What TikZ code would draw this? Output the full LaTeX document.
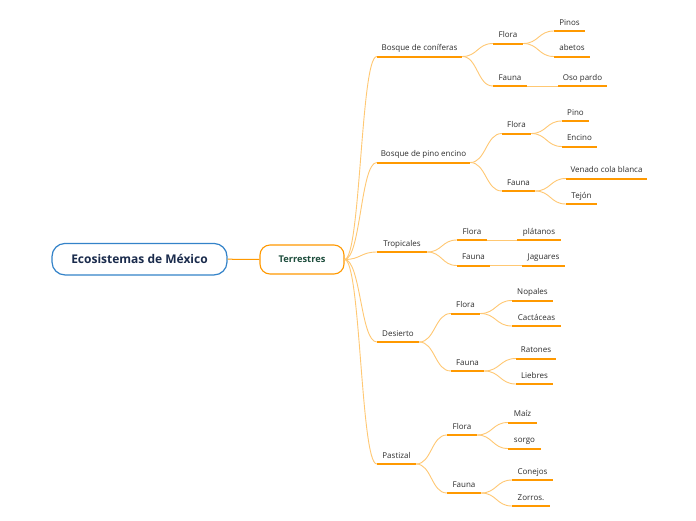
\documentclass[tikz,border=0pt]{standalone}
\usepackage{fontspec}
\setmainfont{Open Sans}
\usetikzlibrary{calc}
\definecolor{orng}{RGB}{255,153,0}
\definecolor{lorng}{RGB}{255,200,115}
\definecolor{rootblue}{RGB}{52,131,201}
\definecolor{navy}{RGB}{26,43,76}
\definecolor{tgreen}{RGB}{29,77,60}
\definecolor{txt}{RGB}{45,45,45}
\newcommand\mmitem[5]{%
  \node[lbl, minimum width={#3-#2}] (#1) at ({(#2+#3)/2},#4) {#5};
  \draw[ul] (#1.south west) -- (#1.south east);}
\newcommand\mmlink[2]{\draw[conn] (#1) to[hc] (#2.south west);}
\begin{document}
\begin{tikzpicture}[x=1pt,y=-1pt,
  lbl/.style={font=\fontsize{8}{9}\selectfont, text=txt, anchor=south,
    inner xsep=0pt, inner ysep=0pt, text height=6pt, text depth=5.5pt},
  ul/.style={orng, line width=2pt},
  conn/.style={lorng, line width=0.9pt},
  hc/.style={to path={let \p1=(\tikztostart), \p2=(\tikztotarget), \n1={(\x2-\x1)/2} in
    .. controls ([xshift=\n1]\tikztostart) and ([xshift=-\n1]\tikztotarget) .. (\tikztotarget)}}]
\useasboundingbox (0,0) rectangle (696,520);
\fill[white] (0,0) rectangle (696,520);

\node[draw=rootblue, line width=1.2pt, rounded corners=13pt, fill=white,
  minimum width=175pt, minimum height=31.5pt, inner sep=0pt,
  font=\bfseries\fontsize{12}{14}\selectfont, text=navy] (root) at (139.5,259.2) {Ecosistemas de México};
\node[draw=orng, line width=1.1pt, rounded corners=10pt, fill=white,
  minimum width=84pt, minimum height=29pt, inner sep=0pt,
  font=\bfseries\fontsize{9.3}{11}\selectfont, text=tgreen] (terr) at (302,259.5) {Terrestres};
\draw[orng, line width=1pt] (root.east) -- (terr.west);

% level 1
\mmitem{c1}{377}{462}{56.5}{Bosque de coníferas}
\mmitem{c2}{377}{470}{162.5}{Bosque de pino encino}
\mmitem{c3}{377}{427}{252}{Tropicales}
\mmitem{c4}{377}{419}{342}{Desierto}
\mmitem{c5}{377}{416}{464}{Pastizal}
\foreach \k in {c1,c2,c3,c4,c5}{\mmlink{terr.east}{\k}}

% level 2
\mmitem{c1f}{493}{523}{43.5}{Flora}
\mmitem{c1a}{493}{527}{86}{Fauna}
\mmitem{c2f}{502}{531}{133.5}{Flora}
\mmitem{c2a}{502}{535}{191}{Fauna}
\mmitem{c3f}{457}{487}{240}{Flora}
\mmitem{c3a}{457}{490}{265.5}{Fauna}
\mmitem{c4f}{451}{480}{313.5}{Flora}
\mmitem{c4a}{451}{484}{371}{Fauna}
\mmitem{c5f}{447}{477}{435}{Flora}
\mmitem{c5a}{447}{481}{493}{Fauna}
\foreach \k in {c1,c2,c3,c4,c5}{
  \mmlink{\k.south east}{\k f}
  \mmlink{\k.south east}{\k a}}

% level 3
\mmitem{pinos}{554}{585}{31}{Pinos}
\mmitem{abetos}{554}{590}{56.5}{abetos}
\mmitem{oso}{558}{607}{86}{Oso pardo}
\mmitem{pino}{562}{589}{121}{Pino}
\mmitem{encino}{562}{597}{146.5}{Encino}
\mmitem{venado}{566}{647}{178.5}{Venado cola blanca}
\mmitem{tejon}{566}{597}{204}{Tejón}
\mmitem{platanos}{517}{561}{240}{plátanos}
\mmitem{jaguares}{522}{565}{265.5}{Jaguares}
\mmitem{nopales}{512}{553}{300.5}{Nopales}
\mmitem{cactaceas}{512}{561}{326}{Cactáceas}
\mmitem{ratones}{516}{556}{358.5}{Ratones}
\mmitem{liebres}{516}{553}{384}{Liebres}
\mmitem{maiz}{508}{537}{422.5}{Maíz}
\mmitem{sorgo}{508}{541}{448.5}{sorgo}
\mmitem{conejos}{512}{553}{480}{Conejos}
\mmitem{zorros}{512}{550}{506}{Zorros.}

\mmlink{c1f.south east}{pinos}
\mmlink{c1f.south east}{abetos}
\mmlink{c1a.south east}{oso}
\mmlink{c2f.south east}{pino}
\mmlink{c2f.south east}{encino}
\mmlink{c2a.south east}{venado}
\mmlink{c2a.south east}{tejon}
\mmlink{c3f.south east}{platanos}
\mmlink{c3a.south east}{jaguares}
\mmlink{c4f.south east}{nopales}
\mmlink{c4f.south east}{cactaceas}
\mmlink{c4a.south east}{ratones}
\mmlink{c4a.south east}{liebres}
\mmlink{c5f.south east}{maiz}
\mmlink{c5f.south east}{sorgo}
\mmlink{c5a.south east}{conejos}
\mmlink{c5a.south east}{zorros}
\end{tikzpicture}
\end{document}
